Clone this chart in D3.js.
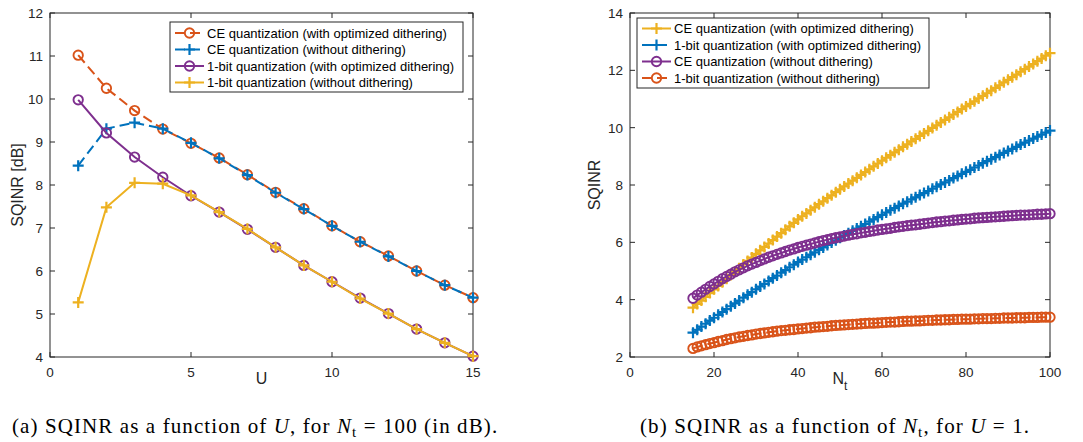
<!DOCTYPE html>
<html>
<head>
<meta charset="UTF-8">
<style>
  body { margin: 0; background: #fff; }
  svg { display: block; }
  text { font-family: "Liberation Sans", Arial, sans-serif; fill: #262626; }
  text.cap { font-family: "Liberation Serif", "DejaVu Serif", serif; fill: #000; letter-spacing: 1.1px; }
</style>
</head>
<body>
<svg></svg>
<script src="https://d3js.org/d3.v7.min.js"></script>
<script>

let width = 1083, height = 442;

let svg = d3.select("svg")
    .attr("width", width)
    .attr("height", height)
    .attr("viewBox", "0 0 " + width + " " + height);

// ---- panel (a): SQINR [dB] vs U, Nt = 100
const users = [1, 2, 3, 4, 5, 6, 7, 8, 9, 10, 11, 12, 13, 14, 15];
const ceOptA   = [11.02, 10.25, 9.73, 9.30, 8.97, 8.63, 8.24, 7.83, 7.45, 7.05, 6.68, 6.35, 6.00, 5.67, 5.38];
const ceNoDA   = [8.45, 9.31, 9.45, 9.31, 8.98, 8.62, 8.23, 7.82, 7.44, 7.05, 6.68, 6.34, 6.00, 5.67, 5.38];
const bitOptA  = [9.98, 9.21, 8.65, 8.18, 7.75, 7.37, 6.97, 6.55, 6.13, 5.75, 5.37, 5.01, 4.65, 4.33, 4.02];
const bitNoDA  = [5.27, 7.48, 8.05, 8.03, 7.76, 7.37, 6.98, 6.55, 6.13, 5.75, 5.36, 5.01, 4.65, 4.33, 4.02];

// ---- panel (b): SQINR vs Nt, U = 1
const antennas = d3.range(15, 101);
const ceOptB = [3.72, 3.85, 3.97, 4.10, 4.23, 4.36, 4.48, 4.61, 4.73, 4.86,
  4.98, 5.10, 5.23, 5.35, 5.47, 5.60, 5.72, 5.84, 5.96, 6.08,
  6.20, 6.32, 6.44, 6.56, 6.68, 6.80, 6.91, 7.01, 7.12, 7.22,
  7.33, 7.43, 7.54, 7.64, 7.75, 7.85, 7.95, 8.05, 8.15, 8.25,
  8.35, 8.45, 8.55, 8.65, 8.75, 8.85, 8.95, 9.04, 9.14, 9.23,
  9.33, 9.42, 9.52, 9.61, 9.71, 9.80, 9.89, 9.99, 10.08, 10.18,
  10.27, 10.36, 10.46, 10.55, 10.65, 10.74, 10.83, 10.92, 11.02, 11.11,
  11.20, 11.29, 11.39, 11.48, 11.58, 11.67, 11.76, 11.85, 11.95, 12.04,
  12.13, 12.22, 12.32, 12.41, 12.51, 12.60];
const bitOptB = [2.85, 2.95, 3.06, 3.16, 3.27, 3.37, 3.47, 3.57, 3.67, 3.77,
  3.87, 3.97, 4.07, 4.17, 4.26, 4.36, 4.46, 4.55, 4.65, 4.75,
  4.84, 4.94, 5.03, 5.13, 5.22, 5.31, 5.40, 5.48, 5.57, 5.65,
  5.74, 5.82, 5.91, 5.99, 6.07, 6.16, 6.24, 6.32, 6.40, 6.48,
  6.56, 6.64, 6.72, 6.80, 6.88, 6.96, 7.04, 7.12, 7.19, 7.27,
  7.35, 7.42, 7.50, 7.57, 7.65, 7.72, 7.79, 7.87, 7.94, 8.02,
  8.09, 8.16, 8.24, 8.31, 8.39, 8.46, 8.53, 8.61, 8.68, 8.76,
  8.83, 8.90, 8.97, 9.05, 9.12, 9.19, 9.26, 9.33, 9.41, 9.48,
  9.55, 9.62, 9.69, 9.76, 9.83, 9.90];
const ceNoDB = [4.05, 4.16, 4.26, 4.36, 4.46, 4.55, 4.64, 4.73, 4.81, 4.89,
  4.97, 5.04, 5.11, 5.18, 5.24, 5.30, 5.36, 5.42, 5.48, 5.53,
  5.58, 5.63, 5.68, 5.73, 5.77, 5.82, 5.86, 5.90, 5.94, 5.98,
  6.02, 6.06, 6.09, 6.13, 6.16, 6.19, 6.22, 6.25, 6.28, 6.30,
  6.33, 6.35, 6.38, 6.40, 6.43, 6.45, 6.47, 6.49, 6.52, 6.54,
  6.56, 6.58, 6.60, 6.61, 6.63, 6.65, 6.67, 6.69, 6.71, 6.72,
  6.74, 6.75, 6.77, 6.78, 6.80, 6.81, 6.82, 6.84, 6.85, 6.86,
  6.87, 6.88, 6.89, 6.90, 6.91, 6.92, 6.93, 6.94, 6.95, 6.95,
  6.96, 6.97, 6.98, 6.98, 6.99, 7.00];
const bitNoDB = [2.30, 2.35, 2.39, 2.43, 2.47, 2.50, 2.54, 2.57, 2.61, 2.64,
  2.67, 2.70, 2.72, 2.75, 2.77, 2.80, 2.82, 2.84, 2.86, 2.88,
  2.90, 2.92, 2.93, 2.95, 2.96, 2.98, 2.99, 3.01, 3.02, 3.04,
  3.05, 3.06, 3.07, 3.09, 3.10, 3.11, 3.12, 3.13, 3.14, 3.15,
  3.16, 3.17, 3.18, 3.18, 3.19, 3.20, 3.21, 3.22, 3.22, 3.23,
  3.24, 3.25, 3.25, 3.26, 3.26, 3.27, 3.28, 3.28, 3.29, 3.29,
  3.30, 3.30, 3.31, 3.31, 3.32, 3.32, 3.32, 3.33, 3.33, 3.34,
  3.34, 3.34, 3.35, 3.35, 3.36, 3.36, 3.36, 3.37, 3.37, 3.37,
  3.38, 3.38, 3.38, 3.39, 3.39, 3.39];

// matlab default colours
const blue = "#0072BD", orange = "#D95319", yellow = "#EDB120", purple = "#7E2F8E";

let panels = [
  {
    x0: 50, x1: 473, y0: 13, y1: 357,
    xDomain: [0, 15], yDomain: [4, 12],
    xTicks: [0, 5, 10, 15], yTicks: d3.range(4, 13),
    yLabel: "SQINR [dB]", yLabelX: 18,
    xLabel: "U", xSub: null,
    legend: { x: 170, y: 22, w: 293, h: 70, lineX: 175, textX: 207, rowY: 33, rowH: 16.5 },
    series: [
      { xs: users, ys: ceOptA,  color: orange, dash: true,  marker: "o", name: "CE quantization (with optimized dithering)" },
      { xs: users, ys: ceNoDA,  color: blue,   dash: true,  marker: "+", name: "CE quantization (without dithering)" },
      { xs: users, ys: bitOptA, color: purple, dash: false, marker: "o", name: "1-bit quantization (with optimized dithering)" },
      { xs: users, ys: bitNoDA, color: yellow, dash: false, marker: "+", name: "1-bit quantization (without dithering)" }
    ]
  },
  {
    x0: 630, x1: 1050, y0: 13, y1: 357,
    xDomain: [0, 100], yDomain: [2, 14],
    xTicks: d3.range(0, 101, 20), yTicks: d3.range(2, 15, 2),
    yLabel: "SQINR", yLabelX: 595,
    xLabel: "N", xSub: "t",
    legend: { x: 637, y: 18, w: 292, h: 70, lineX: 642, textX: 674, rowY: 28.5, rowH: 16.5 },
    series: [
      { xs: antennas, ys: ceOptB,  color: yellow, dash: false, marker: "+", name: "CE quantization (with optimized dithering)" },
      { xs: antennas, ys: bitOptB, color: blue,   dash: true,  marker: "+", name: "1-bit quantization (with optimized dithering)" },
      { xs: antennas, ys: ceNoDB,  color: purple, dash: false, marker: "o", name: "CE quantization (without dithering)" },
      { xs: antennas, ys: bitNoDB, color: orange, dash: true,  marker: "o", name: "1-bit quantization (without dithering)" }
    ]
  }
];

function drawMarker(g, type, color) {
  if (type === "o") {
    g.append("circle").attr("r", 4.7)
      .attr("fill", "none").attr("stroke", color).attr("stroke-width", 1.9);
  } else {
    g.append("path").attr("d", "M-5.5,0H5.5M0,-5.5V5.5")
      .attr("fill", "none").attr("stroke", color).attr("stroke-width", 2.2);
  }
}

panels.forEach(p => {
  let x = d3.scaleLinear().domain(p.xDomain).range([p.x0, p.x1]);
  let y = d3.scaleLinear().domain(p.yDomain).range([p.y1, p.y0]);
  let g = svg.append("g");

  // box
  g.append("rect")
    .attr("x", p.x0).attr("y", p.y0)
    .attr("width", p.x1 - p.x0).attr("height", p.y1 - p.y0)
    .attr("fill", "none").attr("stroke", "#262626").attr("stroke-width", 1);

  // inward ticks on all sides
  let tl = 5;
  p.xTicks.forEach(t => {
    g.append("line").attr("x1", x(t)).attr("x2", x(t)).attr("y1", p.y1).attr("y2", p.y1 - tl).attr("stroke", "#262626");
    g.append("line").attr("x1", x(t)).attr("x2", x(t)).attr("y1", p.y0).attr("y2", p.y0 + tl).attr("stroke", "#262626");
    g.append("text").attr("x", x(t)).attr("y", 377)
      .attr("text-anchor", "middle").style("font-size", "13.5px").text(t);
  });
  p.yTicks.forEach(t => {
    g.append("line").attr("y1", y(t)).attr("y2", y(t)).attr("x1", p.x0).attr("x2", p.x0 + tl).attr("stroke", "#262626");
    g.append("line").attr("y1", y(t)).attr("y2", y(t)).attr("x1", p.x1).attr("x2", p.x1 - tl).attr("stroke", "#262626");
    g.append("text").attr("x", p.x0 - 7).attr("y", y(t) + 5)
      .attr("text-anchor", "end").style("font-size", "13.5px").text(t);
  });

  // axis labels
  g.append("text")
    .attr("transform", "translate(" + (p.yLabelX + 5) + "," + ((p.y0 + p.y1) / 2) + ") rotate(-90)")
    .attr("text-anchor", "middle").style("font-size", "16px").text(p.yLabel);
  let xl = g.append("text")
    .attr("x", (p.x0 + p.x1) / 2).attr("y", 384)
    .attr("text-anchor", "middle").style("font-size", "16px").text(p.xLabel);
  if (p.xSub) {
    xl.append("tspan").attr("dy", 6).style("font-size", "12px").text(p.xSub);
  }

  // series
  let clip = "clip" + p.x0;
  svg.append("clipPath").attr("id", clip).append("rect")
    .attr("x", p.x0 - 8).attr("y", p.y0 - 8)
    .attr("width", p.x1 - p.x0 + 16).attr("height", p.y1 - p.y0 + 16);
  let data = g.append("g").attr("clip-path", "url(#" + clip + ")");

  p.series.forEach(s => {
    let pts = s.xs.map((v, i) => [v, s.ys[i]]);
    data.append("path")
      .attr("d", d3.line().x(d => x(d[0])).y(d => y(d[1]))(pts))
      .attr("fill", "none").attr("stroke", s.color).attr("stroke-width", 2)
      .attr("stroke-dasharray", s.dash ? "10,5" : null);
    pts.forEach(d => {
      let m = data.append("g").attr("transform", "translate(" + x(d[0]) + "," + y(d[1]) + ")");
      drawMarker(m, s.marker, s.color);
    });
  });

  // legend
  let L = p.legend;
  let lg = g.append("g");
  lg.append("rect").attr("x", L.x).attr("y", L.y).attr("width", L.w).attr("height", L.h)
    .attr("fill", "#fff").attr("stroke", "#262626").attr("stroke-width", 1);
  p.series.forEach((s, i) => {
    let yy = L.rowY + i * L.rowH;
    lg.append("line").attr("x1", L.lineX).attr("x2", L.lineX + 29).attr("y1", yy).attr("y2", yy)
      .attr("stroke", s.color).attr("stroke-width", 2)
      .attr("stroke-dasharray", s.dash ? "10,5" : null);
    let m = lg.append("g").attr("transform", "translate(" + (L.lineX + 14.5) + "," + yy + ")");
    drawMarker(m, s.marker, s.color);
    lg.append("text").attr("x", L.textX).attr("y", yy + 4.5)
      .style("font-size", "13px").style("fill", "#000").text(s.name);
  });
});

// captions
let capA = svg.append("text").attr("class", "cap").attr("x", 12).attr("y", 433).style("font-size", "21px");
capA.append("tspan").text("(a) SQINR as a function of ");
capA.append("tspan").style("font-style", "italic").text("U");
capA.append("tspan").text(", for ");
capA.append("tspan").style("font-style", "italic").text("N");
capA.append("tspan").attr("dy", 4).style("font-size", "15px").text("t");
capA.append("tspan").attr("dy", -4).text(" = 100 (in dB).");

let capB = svg.append("text").attr("class", "cap").attr("x", 640).attr("y", 433).style("font-size", "21px");
capB.append("tspan").text("(b) SQINR as a function of ");
capB.append("tspan").style("font-style", "italic").text("N");
capB.append("tspan").attr("dy", 4).style("font-size", "15px").text("t");
capB.append("tspan").attr("dy", -4).text(", for ");
capB.append("tspan").style("font-style", "italic").text("U");
capB.append("tspan").text(" = 1.");

</script>
</body>
</html>
